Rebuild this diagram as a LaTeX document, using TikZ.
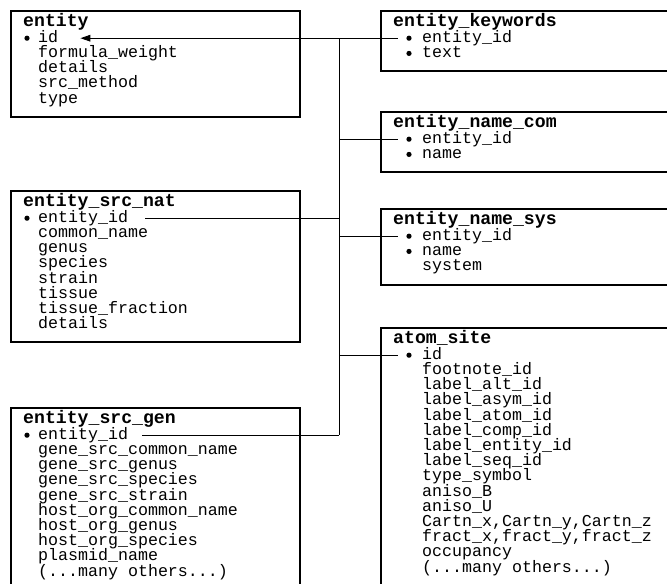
\documentclass[tikz,border=0pt]{standalone}
\usepackage{fontspec}
\setmonofont{Liberation Mono}
\usetikzlibrary{calc,arrows.meta}

\newcommand\manyothers{(...many others...)}
\tikzset{
  tbox/.style={draw,line width=1.1pt},
  ttitle/.style={anchor=west,inner sep=0pt,text height=8pt,text depth=0.5pt,
    font=\ttfamily\bfseries\fontsize{15.5}{16}\selectfont},
  tfield/.style={anchor=west,inner sep=0pt,text height=7.5pt,text depth=0.5pt,
    font=\ttfamily\fontsize{14.2}{15}\selectfont},
  link/.style={line width=0.8pt}
}

\begin{document}
\begin{tikzpicture}[x=0.03cm,y=-0.03cm,>={Triangle[length=3mm,width=2mm]}]
  \useasboundingbox (0,0) rectangle (667,583);
  \clip (0,0) rectangle (667,583);
  % entity
  \draw[tbox] (11,11) rectangle (300,117);
  \node[ttitle] (ent) at (23,22) {entity};
  \foreach \f [count=\i] in {id,formula\_weight,details,src\_method,type}
    \node[tfield] (ent-\i) at (38,23+15.2*\i) {\f};
  \fill ($(ent-1.west)+(-11,0)$) circle (2.6);
  % entity_keywords
  \draw[tbox] (381,11) rectangle (700,71);
  \node[ttitle] (kw) at (393,22) {entity\_keywords};
  \foreach \f [count=\i] in {entity\_id,text}
    \node[tfield] (kw-\i) at (422,23+15.2*\i) {\f};
  \foreach \i in {1,2}
    \fill ($(kw-\i.west)+(-13,0)$) circle (2.6);
  % entity_name_com
  \draw[tbox] (381,112) rectangle (700,172);
  \node[ttitle] (ncom) at (393,123) {entity\_name\_com};
  \foreach \f [count=\i] in {entity\_id,name}
    \node[tfield] (ncom-\i) at (422,124+15.2*\i) {\f};
  \foreach \i in {1,2}
    \fill ($(ncom-\i.west)+(-13,0)$) circle (2.6);
  % entity_src_nat
  \draw[tbox] (11,191) rectangle (300,342);
  \node[ttitle] (snat) at (23,202) {entity\_src\_nat};
  \foreach \f [count=\i] in {entity\_id,common\_name,genus,species,strain,tissue,
      tissue\_fraction,details}
    \node[tfield] (snat-\i) at (38,203+15.2*\i) {\f};
  \fill ($(snat-1.west)+(-11,0)$) circle (2.6);
  % entity_name_sys
  \draw[tbox] (381,209) rectangle (700,285);
  \node[ttitle] (nsys) at (393,220) {entity\_name\_sys};
  \foreach \f [count=\i] in {entity\_id,name,system}
    \node[tfield] (nsys-\i) at (422,221+15.2*\i) {\f};
  \foreach \i in {1,2}
    \fill ($(nsys-\i.west)+(-13,0)$) circle (2.6);
  % atom_site
  \draw[tbox] (381,328) rectangle (700,620);
  \node[ttitle] (asite) at (393,339) {atom\_site};
  \foreach \f [count=\i] in {id,footnote\_id,label\_alt\_id,label\_asym\_id,
      label\_atom\_id,label\_comp\_id,label\_entity\_id,label\_seq\_id,type\_symbol,
      aniso\_B,aniso\_U,{Cartn\_x,Cartn\_y,Cartn\_z},{fract\_x,fract\_y,fract\_z},
      occupancy,\manyothers}
    \node[tfield] (asite-\i) at (422,340+15.2*\i) {\f};
  \fill ($(asite-1.west)+(-13,0)$) circle (2.6);
  % entity_src_gen
  \draw[tbox] (11,408) rectangle (300,620);
  \node[ttitle] (sgen) at (23,419) {entity\_src\_gen};
  \foreach \f [count=\i] in {entity\_id,gene\_src\_common\_name,gene\_src\_genus,
      gene\_src\_species,gene\_src\_strain,host\_org\_common\_name,host\_org\_genus,
      host\_org\_species,plasmid\_name,\manyothers}
    \node[tfield] (sgen-\i) at (38,420+15.2*\i) {\f};
  \fill ($(sgen-1.west)+(-11,0)$) circle (2.6);
  % links
  \coordinate (trunk) at (339,0);
  \draw[link] (trunk |- ent-1.west) -- (trunk |- sgen-1.west);
  \draw[link,->] (trunk |- ent-1.west) -- ($(ent-1.east)+(22,0)$);
  \foreach \t in {kw,ncom,nsys,asite}
    \draw[link] (trunk |- \t-1.west) -- ($(\t-1.west)+(-24,0)$);
  \draw[link] ($(snat-1.east)+(17,0)$) -- (trunk |- snat-1.west);
  \draw[link] ($(sgen-1.east)+(14,0)$) -- (trunk |- sgen-1.west);
\end{tikzpicture}
\end{document}
